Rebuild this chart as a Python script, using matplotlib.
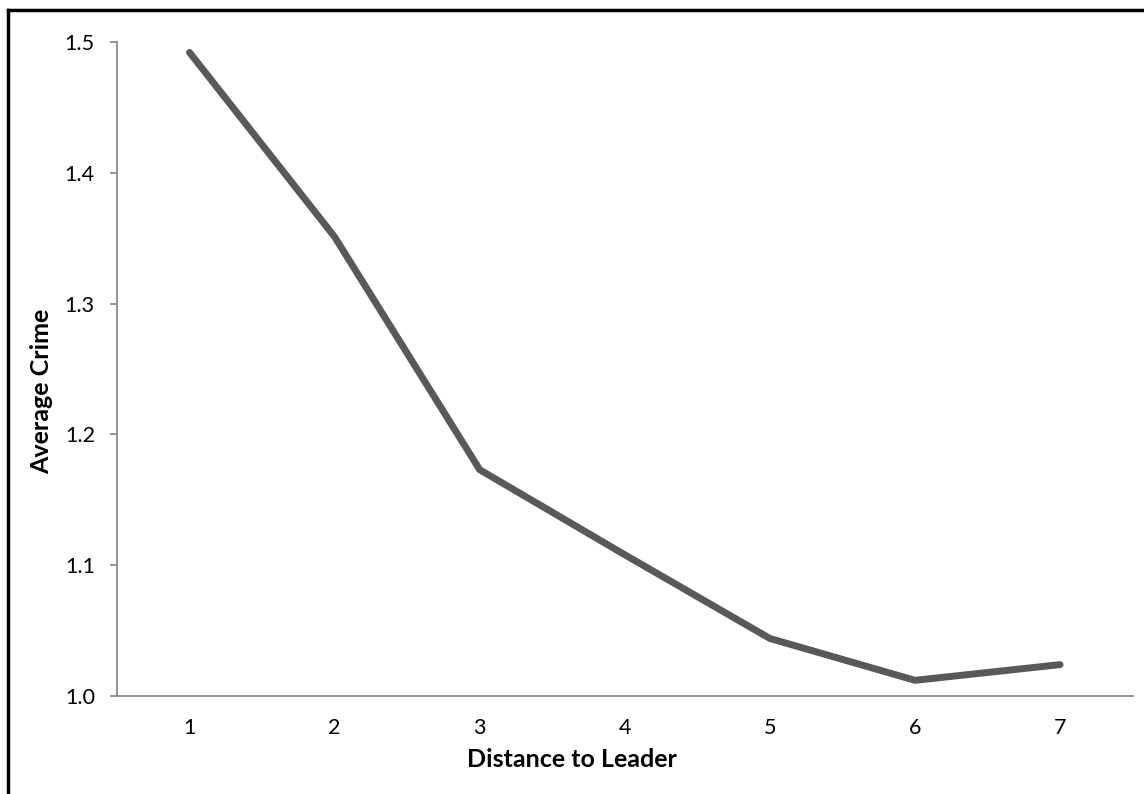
import matplotlib.pyplot as plt
import matplotlib.lines as mlines

distance = [1, 2, 3, 4, 5, 6, 7]
avg_crime = [1.492, 1.351, 1.173, 1.108, 1.044, 1.012, 1.024]
y_ticks = [1.0, 1.1, 1.2, 1.3, 1.4, 1.5]

plt.rcParams['font.family'] = ['Lato', 'DejaVu Sans']

fig = plt.figure(figsize=(11.44, 7.94), dpi=100)
ax = fig.add_axes([0.1023, 0.1234, 0.8877, 0.8237])

ax.plot(distance, avg_crime, color='#595959', linewidth=5, solid_capstyle='round',
        solid_joinstyle='round')

ax.set_xlim(0.5, 7.5)
ax.set_ylim(1.0, 1.5)
ax.set_yticks(y_ticks)
ax.set_yticklabels([f'{t:.1f}' for t in y_ticks])
ax.set_xticks(distance)
ax.set_xticklabels([str(d) for d in distance])

for side in ['top', 'right']:
    ax.spines[side].set_visible(False)
for side in ['left', 'bottom']:
    ax.spines[side].set_color('#8c8c8c')
    ax.spines[side].set_linewidth(1.3)

ax.tick_params(axis='y', length=5, width=1.3, color='#8c8c8c', labelsize=15.5, pad=11)
ax.tick_params(axis='x', length=0, labelsize=15.5, pad=16)

ax.set_xlabel('Distance to Leader', fontsize=18, fontweight='bold')
ax.set_ylabel('Average Crime', fontsize=18, fontweight='bold')
ax.xaxis.set_label_coords(0.448, -0.08)
ax.yaxis.set_label_coords(-0.063, 0.466)

# frame lines along top and left edge of the chart
fig.add_artist(mlines.Line2D([8 / 1144, 1], [1 - 10 / 794, 1 - 10 / 794],
                             color='black', linewidth=2.5, transform=fig.transFigure))
fig.add_artist(mlines.Line2D([8 / 1144, 8 / 1144], [0, 1 - 10 / 794],
                             color='black', linewidth=2.5, transform=fig.transFigure))

fig.savefig('out.png', dpi=100)
